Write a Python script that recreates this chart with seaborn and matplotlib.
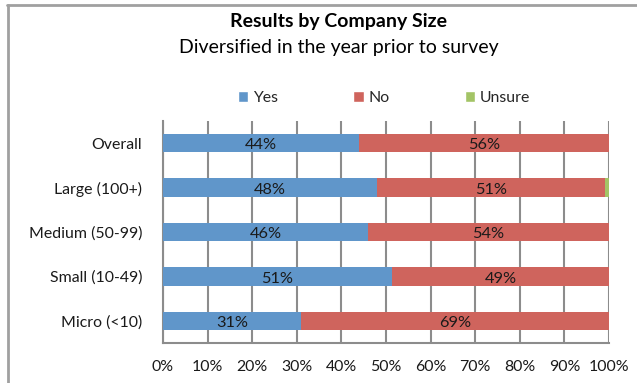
import matplotlib
matplotlib.use("Agg")
import matplotlib.pyplot as plt
import seaborn as sns
import pandas as pd
import numpy as np
from matplotlib.patches import Patch
from matplotlib.lines import Line2D

categories = ["Overall", "Large (100+)", "Medium (50-99)", "Small (10-49)", "Micro (<10)"]
yes = [44, 48, 46, 51.3, 31]
no = [56, 51, 54, 48.7, 69]
unsure = [0, 1, 0, 0, 0]
yes_labels = ["44%", "48%", "46%", "51%", "31%"]
no_labels = ["56%", "51%", "54%", "49%", "69%"]
x_ticks = [0, 10, 20, 30, 40, 50, 60, 70, 80, 90, 100]

c_yes = "#6096CA"
c_no = "#CF645D"
c_uns = "#A3C466"
grid_c = "#8C8C8C"

sns.set_theme(style="white")
plt.rcParams["font.family"] = ["Lato", "DejaVu Sans"]

df = pd.DataFrame({"cat": categories, "yes": yes, "no": no, "unsure": unsure})
df["yes_no"] = df["yes"] + df["no"]
df["total"] = df["yes_no"] + df["unsure"]

fig = plt.figure(figsize=(6.37, 3.83), dpi=100)
top = 1 - 121 / 383
bottom = 1 - 343 / 383
ax = fig.add_axes([0.2559, bottom, 0.956 - 0.2559, top - bottom])

# stacked bars: draw cumulative totals back to front
w = 0.41
sns.barplot(data=df, y="cat", x="total", color=c_uns, orient="h", width=w,
            ax=ax, saturation=1, edgecolor="none", zorder=3)
sns.barplot(data=df, y="cat", x="yes_no", color=c_no, orient="h", width=w,
            ax=ax, saturation=1, edgecolor="none", zorder=3)
sns.barplot(data=df, y="cat", x="yes", color=c_yes, orient="h", width=w,
            ax=ax, saturation=1, edgecolor="none", zorder=3)

lab_fs = 11.8
for i in range(len(categories)):
    ax.text(yes[i] / 2, i + 0.05, yes_labels[i], ha="center", va="center",
            fontsize=lab_fs, color="#1a1a1a", zorder=4)
    ax.text(yes[i] + no[i] / 2, i + 0.05, no_labels[i], ha="center", va="center",
            fontsize=lab_fs, color="#1a1a1a", zorder=4)

ax.set_xlim(0, 100)
ax.set_ylim(len(categories) - 0.5, -0.5)
ax.set_xticks(x_ticks)
ax.set_xticklabels([f"{t}%" for t in x_ticks], fontsize=11.4, color="#1a1a1a")
ax.set_yticks(range(len(categories)))
ax.set_yticklabels(categories, fontsize=11.4, color="#1a1a1a")
ax.set_yticks(np.arange(-0.5, len(categories) + 0.5, 1), minor=True)
ax.tick_params(axis="y", which="major", length=0, pad=15)
ax.tick_params(axis="y", which="minor", length=4, width=1.5, color=grid_c, direction="out")
ax.tick_params(axis="x", which="major", length=4, width=1.5, color=grid_c, direction="out", pad=8)
ax.set_xlabel("")
ax.set_ylabel("")
ax.grid(axis="x", color=grid_c, linewidth=1.5, zorder=0)
ax.set_axisbelow(True)
for s in ["top", "right"]:
    ax.spines[s].set_visible(False)
for s in ["left", "bottom"]:
    ax.spines[s].set_color(grid_c)
    ax.spines[s].set_linewidth(1.5)

fig.text(0.532, 1 - 22 / 383, "Results by Company Size", ha="center", va="center",
         fontsize=14, fontweight="bold", color="#000000")
fig.text(0.532, 1 - 48 / 383, "Diversified in the year prior to survey", ha="center",
         va="center", fontsize=14, color="#000000")

handles = [Patch(facecolor=c_yes), Patch(facecolor=c_no), Patch(facecolor=c_uns)]
fig.legend(handles, ["Yes", "No", "Unsure"], loc="center", bbox_to_anchor=(0.603, 1 - 98 / 383),
           ncol=3, frameon=False, fontsize=11.4, handlelength=0.65, handleheight=0.65,
           handletextpad=0.3, columnspacing=4.75)

# chart frame
fig.add_artist(Line2D([7 / 637, 1.0], [1 - 4.5 / 383, 1 - 4.5 / 383],
                      transform=fig.transFigure, color="#A0A0A0", linewidth=2))
fig.add_artist(Line2D([7.5 / 637, 7.5 / 637], [0, 1 - 4.5 / 383],
                      transform=fig.transFigure, color="#A0A0A0", linewidth=2))

fig.savefig("out.png", dpi=100)
